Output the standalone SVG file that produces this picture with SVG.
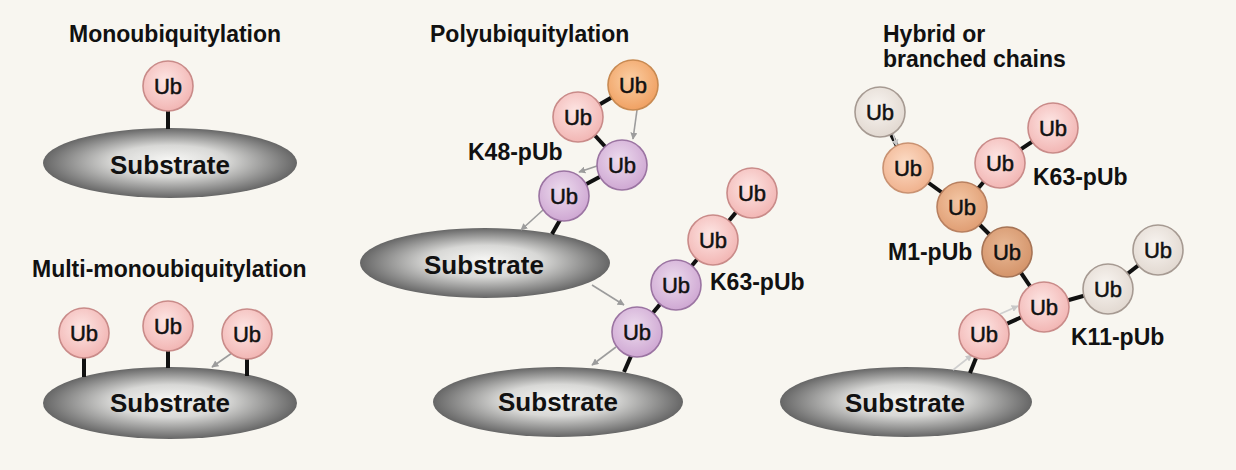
<svg xmlns="http://www.w3.org/2000/svg" width="1236" height="470" viewBox="0 0 1236 470">
<defs>
<radialGradient id="gSub" cx="50%" cy="50%" r="50%" fx="50%" fy="45%">
<stop offset="0" stop-color="#f6f6f4"/><stop offset="0.45" stop-color="#d8d8d6"/><stop offset="1" stop-color="#666666"/>
</radialGradient>
<radialGradient id="gPink" cx="45%" cy="40%" r="60%"><stop offset="0" stop-color="#fde6e4"/><stop offset="1" stop-color="#f2b6b4"/></radialGradient>
<radialGradient id="gPurple" cx="45%" cy="40%" r="60%"><stop offset="0" stop-color="#eddcee"/><stop offset="1" stop-color="#cfa8d3"/></radialGradient>
<radialGradient id="gOrange" cx="45%" cy="40%" r="60%"><stop offset="0" stop-color="#fbcfa4"/><stop offset="1" stop-color="#f0a163"/></radialGradient>
<radialGradient id="gSalmon" cx="45%" cy="40%" r="60%"><stop offset="0" stop-color="#fcdcc6"/><stop offset="1" stop-color="#f0b28e"/></radialGradient>
<radialGradient id="gDkOrange" cx="45%" cy="40%" r="60%"><stop offset="0" stop-color="#f3c7a5"/><stop offset="1" stop-color="#e09e74"/></radialGradient>
<radialGradient id="gBrown" cx="45%" cy="40%" r="60%"><stop offset="0" stop-color="#e9b996"/><stop offset="1" stop-color="#d4946a"/></radialGradient>
<radialGradient id="gGrey" cx="45%" cy="40%" r="60%"><stop offset="0" stop-color="#f8f4f0"/><stop offset="1" stop-color="#e2d9d1"/></radialGradient>
<marker id="ah" viewBox="0 0 10 10" refX="9" refY="5" markerWidth="7" markerHeight="7" orient="auto" markerUnits="userSpaceOnUse"><path d="M0,0 L10,5 L0,10 z" fill="#9c9c9c"/></marker>
<marker id="ahf" viewBox="0 0 10 10" refX="9" refY="5" markerWidth="7" markerHeight="7" orient="auto" markerUnits="userSpaceOnUse"><path d="M0,0 L10,5 L0,10 z" fill="#c8c8c8"/></marker>
</defs>
<style>
.title{font-family:"Liberation Sans",Arial,sans-serif;font-weight:bold;font-size:23px;fill:#111}
.lbl{font-family:"Liberation Sans",Arial,sans-serif;font-weight:bold;font-size:23px;fill:#111}
.sub{font-family:"Liberation Sans",Arial,sans-serif;font-weight:bold;font-size:26px;fill:#111;text-anchor:middle}
.ubt{font-family:"Liberation Sans",Arial,sans-serif;font-size:22px;fill:#111;text-anchor:middle;stroke:#111;stroke-width:0.5}
.ell{fill:url(#gSub)}
.ub{stroke-width:1.6}
.pink{fill:url(#gPink);stroke:#c98b89}
.purple{fill:url(#gPurple);stroke:#9b74a2}
.orange{fill:url(#gOrange);stroke:#c88a52}
.salmon{fill:url(#gSalmon);stroke:#c99272}
.dkorange{fill:url(#gDkOrange);stroke:#b88060}
.brown{fill:url(#gBrown);stroke:#a67456}
.grey{fill:url(#gGrey);stroke:#a69a92}
.link{stroke:#111;stroke-width:4;fill:none}
.arr{stroke:#9c9c9c;stroke-width:1.6;fill:none;marker-end:url(#ah)}
.arrf{stroke:#cfcfcf;stroke-width:1.6;fill:none;marker-end:url(#ahf)}
</style>
<rect width="1236" height="470" fill="#f8f6f0"/>

<g id="titles">
<text class="title" x="69" y="42">Monoubiquitylation</text>
<text class="title" x="32" y="277">Multi-monoubiquitylation</text>
<text class="title" x="430" y="42">Polyubiquitylation</text>
<text class="title" x="883" y="42">Hybrid or</text>
<text class="title" x="883" y="67">branched chains</text>
</g>

<g id="substrate1"><ellipse class="ell" cx="170" cy="163" rx="127" ry="35"/><text class="sub" x="170" y="174">Substrate</text></g>
<g id="substrate2"><ellipse class="ell" cx="170" cy="403" rx="127" ry="36"/><text class="sub" x="170" y="412">Substrate</text></g>
<g id="substrate3"><ellipse class="ell" cx="485" cy="263" rx="125" ry="35"/><text class="sub" x="484" y="274">Substrate</text></g>
<g id="substrate4"><ellipse class="ell" cx="558" cy="402" rx="125" ry="35"/><text class="sub" x="558" y="411">Substrate</text></g>
<g id="substrate5"><ellipse class="ell" cx="906" cy="402" rx="126" ry="35"/><text class="sub" x="905" y="412">Substrate</text></g>

<g id="connectors">
<line class="link" x1="168" y1="110" x2="168" y2="129"/>
<line class="link" x1="84" y1="357" x2="84" y2="377"/>
<line class="link" x1="168" y1="350" x2="168" y2="368"/>
<line class="link" x1="247" y1="359" x2="247" y2="376"/>
<line class="arr" x1="232" y1="353" x2="212" y2="367"/>

<line class="link" x1="633" y1="85" x2="578" y2="117"/>
<line class="link" x1="578" y1="117" x2="622" y2="165"/>
<line class="link" x1="622" y1="165" x2="564" y2="196"/>
<line class="link" x1="560" y1="220" x2="552" y2="234"/>
<line class="arr" x1="637" y1="110" x2="633" y2="139"/>
<line class="arr" x1="597" y1="166" x2="579" y2="172"/>
<line class="arr" x1="543" y1="210" x2="521" y2="230"/>

<line class="link" x1="752" y1="193" x2="713" y2="240"/>
<line class="link" x1="713" y1="240" x2="676" y2="285"/>
<line class="link" x1="676" y1="285" x2="637" y2="332"/>
<line class="link" x1="631" y1="356" x2="624" y2="372"/>
<line class="arr" x1="592" y1="285" x2="624" y2="305"/>
<line class="arr" x1="616" y1="347" x2="592" y2="365"/>

<line class="link" x1="880" y1="112" x2="908" y2="168"/>
<line class="link" x1="908" y1="168" x2="962" y2="207"/>
<line class="link" x1="962" y1="207" x2="1000" y2="163"/>
<line class="link" x1="1000" y1="163" x2="1053" y2="128"/>
<line class="link" x1="962" y1="207" x2="1007" y2="252"/>
<line class="link" x1="1007" y1="252" x2="1044" y2="307"/>
<line class="link" x1="1044" y1="307" x2="1108" y2="289"/>
<line class="link" x1="1108" y1="289" x2="1158" y2="250"/>
<line class="link" x1="1044" y1="307" x2="984" y2="334"/>
<line class="link" x1="976" y1="358" x2="970" y2="373"/>
<line class="arrf" x1="893" y1="134" x2="897" y2="146"/>
<line class="arrf" x1="953" y1="370" x2="972" y2="355"/>
<line class="arrf" x1="1000" y1="314" x2="1018" y2="306"/>
</g>

<g id="ub-mono"><circle class="ub pink" cx="168" cy="86" r="25"/><text class="ubt" x="168" y="94">Ub</text></g>
<g id="ub-multi-1"><circle class="ub pink" cx="84" cy="333" r="25"/><text class="ubt" x="84" y="341">Ub</text></g>
<g id="ub-multi-2"><circle class="ub pink" cx="168" cy="326" r="25"/><text class="ubt" x="168" y="334">Ub</text></g>
<g id="ub-multi-3"><circle class="ub pink" cx="247" cy="334" r="25"/><text class="ubt" x="247" y="342">Ub</text></g>

<g id="ub-k48-4"><circle class="ub orange" cx="633" cy="85" r="25"/><text class="ubt" x="633" y="93">Ub</text></g>
<g id="ub-k48-3"><circle class="ub pink" cx="578" cy="117" r="25"/><text class="ubt" x="578" y="125">Ub</text></g>
<g id="ub-k48-2"><circle class="ub purple" cx="622" cy="165" r="25"/><text class="ubt" x="622" y="173">Ub</text></g>
<g id="ub-k48-1"><circle class="ub purple" cx="564" cy="196" r="25"/><text class="ubt" x="564" y="204">Ub</text></g>
<g id="label-k48"><text class="lbl" x="468" y="160">K48-pUb</text></g>

<g id="ub-k63-4"><circle class="ub pink" cx="752" cy="193" r="25"/><text class="ubt" x="752" y="201">Ub</text></g>
<g id="ub-k63-3"><circle class="ub pink" cx="713" cy="240" r="25"/><text class="ubt" x="713" y="248">Ub</text></g>
<g id="ub-k63-2"><circle class="ub purple" cx="676" cy="285" r="25"/><text class="ubt" x="676" y="293">Ub</text></g>
<g id="ub-k63-1"><circle class="ub purple" cx="637" cy="332" r="25"/><text class="ubt" x="637" y="340">Ub</text></g>
<g id="label-k63"><text class="lbl" x="710" y="290">K63-pUb</text></g>

<g id="ub-h-grey1"><circle class="ub grey" cx="880" cy="112" r="25"/><text class="ubt" x="880" y="120">Ub</text></g>
<g id="ub-h-salmon"><circle class="ub salmon" cx="908" cy="168" r="25"/><text class="ubt" x="908" y="176">Ub</text></g>
<g id="ub-h-center"><circle class="ub dkorange" cx="962" cy="207" r="25"/><text class="ubt" x="962" y="215">Ub</text></g>
<g id="ub-h-pink1"><circle class="ub pink" cx="1000" cy="163" r="25"/><text class="ubt" x="1000" y="171">Ub</text></g>
<g id="ub-h-pink2"><circle class="ub pink" cx="1053" cy="128" r="25"/><text class="ubt" x="1053" y="136">Ub</text></g>
<g id="ub-h-m1"><circle class="ub brown" cx="1007" cy="252" r="25"/><text class="ubt" x="1007" y="260">Ub</text></g>
<g id="ub-h-hub"><circle class="ub pink" cx="1044" cy="307" r="25"/><text class="ubt" x="1044" y="315">Ub</text></g>
<g id="ub-h-grey2"><circle class="ub grey" cx="1108" cy="289" r="25"/><text class="ubt" x="1108" y="297">Ub</text></g>
<g id="ub-h-grey3"><circle class="ub grey" cx="1158" cy="250" r="25"/><text class="ubt" x="1158" y="258">Ub</text></g>
<g id="ub-h-base"><circle class="ub pink" cx="984" cy="334" r="25"/><text class="ubt" x="984" y="342">Ub</text></g>
<g id="label-h-k63"><text class="lbl" x="1033" y="185">K63-pUb</text></g>
<g id="label-m1"><text class="lbl" x="888" y="260">M1-pUb</text></g>
<g id="label-k11"><text class="lbl" x="1071" y="345">K11-pUb</text></g>
</svg>
